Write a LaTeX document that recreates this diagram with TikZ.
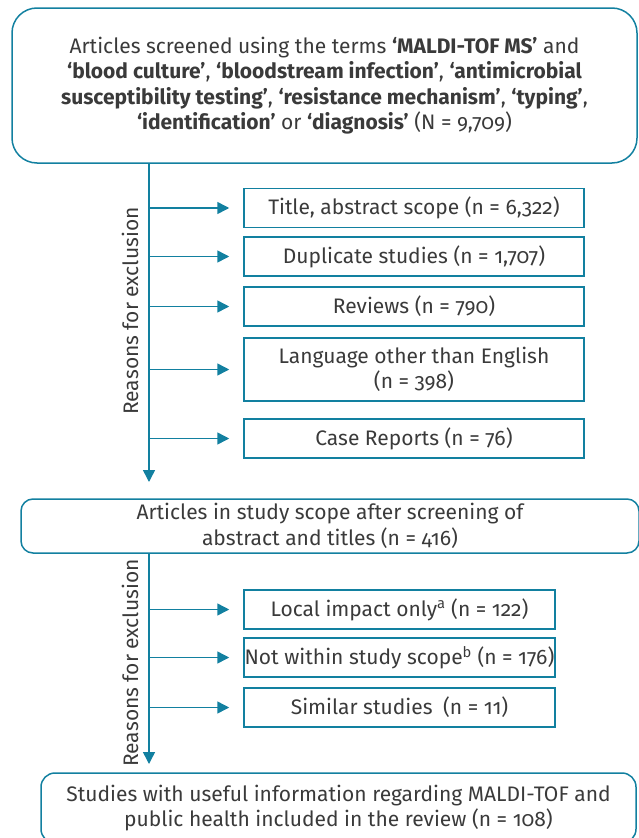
\documentclass[tikz,border=0pt]{standalone}
\usepackage{fontspec}
\setmainfont{Fira Sans}[Numbers=OldStyle]
\usetikzlibrary{arrows.meta,positioning}

\definecolor{flowteal}{RGB}{18,128,160}
\definecolor{txtgray}{RGB}{58,58,58}

\newcommand*{\spinex}{149}
\newcommand*{\colA}{414}
\newcommand*{\colB}{399.5}

\begin{document}
\begin{tikzpicture}
[
	x=1pt, y=-1pt,
	font=\fontsize{21}{25.5}\selectfont, text=txtgray,
	stagebox/.style={draw=flowteal,line width=1.5pt,rounded corners=25pt,align=center,inner sep=0pt},
	exclbox/.style={draw=flowteal,line width=1.5pt,align=center,inner sep=0pt,minimum height=39pt},
	flow/.style={flowteal,line width=1.5pt,-{Triangle[length=12pt,width=12pt]}},
	why/.style={rotate=90,inner sep=0pt}
]

	\useasboundingbox (0,0) rectangle (638,838);

	% stages
	\node[stagebox,minimum width=625pt,minimum height=155pt] (screened) at (324.5,85.5)
		{Articles screened using the terms \textbf{‘MALDI-TOF MS’} and\\
		\textbf{‘blood culture’}, \textbf{‘bloodstream infection’}, \textbf{‘antimicrobial}\\
		\textbf{susceptibility testing’}, \textbf{‘resistance mechanism’}, \textbf{‘typing’},\\
		\textbf{‘identification’} or \textbf{‘diagnosis’} (N = 9,709)};
	\node[stagebox,rounded corners=12pt,minimum width=618pt,minimum height=54pt] (inscope) at (330,526)
		{Articles in study scope after screening of\\ abstract and titles (n = 416)};
	\node[stagebox,rounded corners=14pt,minimum width=595pt,minimum height=70pt] (included) at (338.5,808)
		{Studies with useful information regarding MALDI-TOF and\\ public health included in the review (n = 108)};

	% first exclusion round
	\node[exclbox,minimum width=340pt] (title) at (\colA,208) {Title, abstract scope (n = 6,322)};
	\node[exclbox,minimum width=340pt] (dupl) at (\colA,256.5) {Duplicate studies (n = 1,707)};
	\node[exclbox,minimum width=340pt] (reviews) at (\colA,306.5) {Reviews (n = 790)};
	\node[exclbox,minimum width=340pt,minimum height=63pt] (lang) at (\colA,369.5) {Language other than English\\ (n = 398)};
	\node[exclbox,minimum width=340pt] (cases) at (\colA,438.5) {Case Reports (n = 76)};

	% second exclusion round
	\node[exclbox,minimum width=311pt] (local) at (\colB,609.5) {Local impact only\textsuperscript{a} (n = 122)};
	\node[exclbox,minimum width=311pt] (outscope) at (\colB,657.5) {Not within study scope\textsuperscript{b} (n = 176)};
	\node[exclbox,minimum width=311pt] (similar) at (\colB,707.5) {Similar studies\enspace(n = 11)};

	\node[why] (why1) at (130,311) {Reasons for exclusion};
	\node[why] (why2) at (130,663) {Reasons for exclusion};

	% spines
	\coordinate (end1) at (\spinex,482);
	\coordinate (end2) at (\spinex,764);
	\draw[flow] (screened.south -| end1) -- (end1);
	\draw[flow] (inscope.south -| end2) -- (end2);

	\foreach \b in {title,dupl,reviews,lang,cases}
		\draw[flow,shorten >=14pt] (\b.west -| end1) -- (\b.west);
	\foreach \b in {local,outscope,similar}
		\draw[flow,shorten >=14pt] (\b.west -| end2) -- (\b.west);

\end{tikzpicture}
\end{document}
